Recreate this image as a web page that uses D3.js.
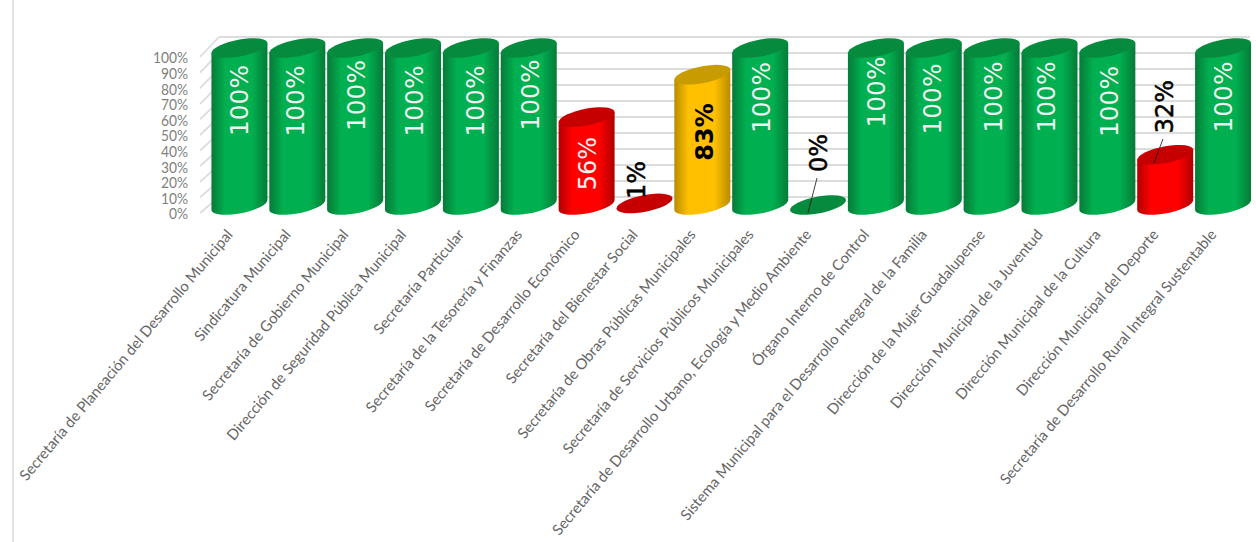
<!DOCTYPE html>
<html><head><meta charset="utf-8">
<script src="https://cdn.jsdelivr.net/npm/d3@7"></script>
<style>html,body{margin:0;background:#fff}svg{display:block}</style></head>
<body><div id="c"></div>
<script>
const categories=["Secretaría de Planeación del Desarrollo Municipal","Sindicatura Municipal","Secretaría de Gobierno Municipal","Dirección de Seguridad Pública Municipal","Secretaría Particular","Secretaría de la Tesorería y Finanzas","Secretaría de Desarrollo Económico","Secretaría del Bienestar Social","Secretaría de Obras Públicas Municipales","Secretaría de Servicios Públicos Municipales","Secretaría de Desarrollo Urbano, Ecología y Medio Ambiente","Órgano Interno de Control","Sistema Municipal para el Desarrollo Integral de la Familia","Dirección de la Mujer Guadalupense","Dirección Municipal de la Juventud","Dirección Municipal de la Cultura","Dirección Municipal del Deporte","Secretaría de Desarrollo Rural Integral Sustentable"];
const values=[100,100,100,100,100,100,56,1,83,100,0,100,100,100,100,100,32,100];
const labelCenterY=[100.5,101,95.5,101,101,95,163.5,180,132,97.5,153,92,99,97,97,101.5,106.5,97];
const labelCenterX=[239,295,356,414,475,530,587,636,704,761,818,876,932,993,1046,1109,1164,1223];
const yTicks=[0,10,20,30,40,50,60,70,80,90,100];

const W=1256,H=542;
const svg=d3.select("#c").append("svg").attr("width",W).attr("height",H);
const x=d3.scaleBand().domain(d3.range(categories.length)).range([210.5,1252]);
const yFront=d3.scaleLinear().domain([0,100]).range([214,58]);
const yBack=d3.scaleLinear().domain([0,100]).range([197,37]);
const yC=d3.scaleLinear().domain([0,100]).range([205,48]);
const RX=28,RY=8.5,SH=-5/28;

function palette(v){return v>=100||v===0?{e:"#067a38",m:"#00b050",t:"#068a3e"}:v>=80?{e:"#b88c00",m:"#ffc000",t:"#c89b00"}:{e:"#b00000",m:"#ff0000",t:"#c60000"};}
const defs=svg.append("defs");
[["g",palette(100)],["r",palette(50)],["y",palette(83)]].forEach(([id,p])=>{
  const g=defs.append("linearGradient").attr("id",id);
  [[0,p.e],[.25,p.m],[.72,p.m],[1,p.e]].forEach(([o,c])=>g.append("stop").attr("offset",o).attr("stop-color",c));
});
const gid=v=>v>=100||v===0?"g":v>=80?"y":"r";

svg.append("line").attr("x1",13).attr("x2",13).attr("y1",0).attr("y2",H).attr("stroke","#d9d9d9").attr("stroke-width",1.5);
const grid=svg.append("g");
yTicks.forEach(t=>{
  grid.append("line").attr("x1",219).attr("x2",1250).attr("y1",yBack(t)).attr("y2",yBack(t)).attr("stroke","#dcdcdc").attr("stroke-width",2.2);
  grid.append("line").attr("x1",200).attr("x2",219).attr("y1",yFront(t)-1).attr("y2",yBack(t)).attr("stroke","#dcdcdc").attr("stroke-width",1.8);
});
svg.append("g").selectAll("text").data(yTicks).join("text")
  .attr("transform",d=>`translate(188,${yFront(d)}) scale(.92,1)`).attr("dy","0.36em").attr("text-anchor","end")
  .attr("font-family","Lato").attr("font-size",15).attr("fill","#7f7f7f").text(d=>d+"%");
const bars=svg.append("g").selectAll("g").data(values).join("g")
  .attr("transform",(d,i)=>`translate(${x(i)+x.bandwidth()/2},0)`);
bars.append("g").attr("transform",`matrix(1,${SH},0,1,0,0)`).each(function(v){
  const g=d3.select(this),top=yC(v),bot=yC(0),p=palette(v);
  if(v>1) g.append("path").attr("d",`M${-RX},${top}L${-RX},${bot}A${RX},${RY} 0 0 0 ${RX},${bot}L${RX},${top}Z`).attr("fill",`url(#${gid(v)})`);
  g.append("ellipse").attr("cx",0).attr("cy",top).attr("rx",RX).attr("ry",RY).attr("fill",p.t);
});
svg.append("g").selectAll("text").data(values).join("text")
  .attr("transform",(d,i)=>`translate(${labelCenterX[i]},${labelCenterY[i]}) rotate(-90)`)
  .attr("text-anchor","middle").attr("dy","0.36em")
  .attr("font-family","DejaVu Sans").attr("font-size",d=>d===100?24.8:24)
  .attr("font-weight",d=>d===83?700:400)
  .attr("fill",d=>(d===100||d===56)?"#f0f0f0":"#000")
  .attr("stroke",d=>(d===1||d===0||d===32)?"#000":"none").attr("stroke-width",.5)
  .text(d=>d+"%");
[[10,817,178,808,213],[16,1163,139,1154,163]].forEach(([i,a,b,c,d])=>svg.append("line").attr("x1",a).attr("y1",b).attr("x2",c).attr("y2",d).attr("stroke","#111").attr("stroke-width",.8));
svg.append("g").selectAll("text").data(categories).join("text")
  .attr("transform",(d,i)=>`translate(${x(i)+x.bandwidth()/2-10},231.5) rotate(-50)`)
  .attr("text-anchor","end").attr("dy","0.36em")
  .attr("font-family","Lato").attr("font-size",14.9).attr("fill","#666").text(d=>d);
</script></body></html>
